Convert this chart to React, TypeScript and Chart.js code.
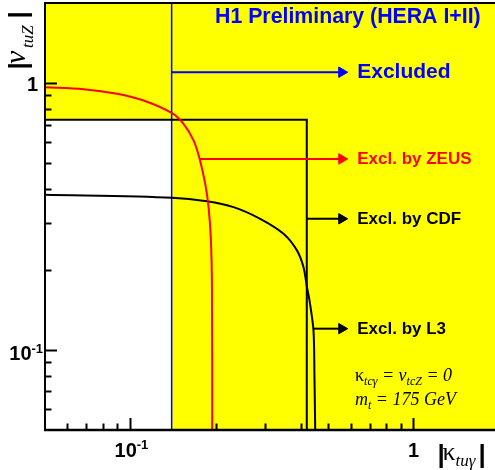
import React, { useEffect, useRef } from "react";
import { Chart, registerables } from "chart.js";

Chart.register(...registerables);

// ---- axis ranges ----
const X_MIN = 0.05;
const X_MAX = 1.94;
const Y_MIN = 0.05;
const Y_MAX = 2;

// ---- excluded-region boundaries ----
const whiteX = [0.05, 0.14];
const whiteY = [0.73, 0.73];
const h1X = [0.14, 0.14];
const h1Y = [0.05, 2];
const boxX = [0.05, 0.42, 0.42];
const boxY = [0.73, 0.73, 0.05];

// ---- ZEUS limit curve ----
const zeusX = [0.05, 0.0684, 0.0898, 0.1114, 0.1404, 0.1542, 0.1673, 0.1757, 0.1839, 0.189, 0.1927, 0.1943, 0.1947];
const zeusY = [0.966, 0.95, 0.913, 0.861, 0.772, 0.704, 0.61, 0.521, 0.42, 0.343, 0.257, 0.167, 0.05];

// ---- CDF / L3 limit curve ----
const cdfX = [0.05, 0.1404, 0.1865, 0.2315, 0.2876, 0.3476, 0.3877, 0.409, 0.4205, 0.4295, 0.4436, 0.447, 0.4498];
const cdfY = [0.3816, 0.372, 0.361, 0.343, 0.31, 0.2724, 0.236, 0.204, 0.172, 0.153, 0.118, 0.08, 0.05];

// ---- arrows and labels ----
const arrowLabels = ["Excluded", "Excl. by ZEUS", "Excl. by CDF", "Excl. by L3"];
const arrowColors = ["#0000ff", "#ff0000", "#000000", "#000000"];
const arrowFontSizes = [21, 17, 17, 17];
const arrowY = [1.1, 0.52, 0.31, 0.12];
const arrowStartX = [0.14, 0.176, 0.42, 0.443];
const arrowTipX = 0.558;
const labelX = 0.633;

// ---- ticks ----
const xMajor = [0.1, 1];
const xMinor = [0.06, 0.07, 0.08, 0.09, 0.2, 0.3, 0.4, 0.5, 0.6, 0.7, 0.8, 0.9];
const yMajor = [0.1, 1];
const yMinor = [0.06, 0.07, 0.08, 0.09, 0.2, 0.3, 0.4, 0.5, 0.6, 0.7, 0.8, 0.9];

const titleText = "H1 Preliminary (HERA I+II)";

const pts = (xs: number[], ys: number[]) => xs.map((x, i) => ({ x, y: ys[i] }));

const SANS = '"Liberation Sans", Arial, sans-serif';
const SERIF = '"Liberation Serif", "Times New Roman", serif';

type Part = { t: string; font: string; dy?: number; dx?: number };
function drawRich(ctx: CanvasRenderingContext2D, x: number, y: number, parts: Part[]) {
  let cx = x;
  for (const p of parts) {
    ctx.font = p.font;
    cx += p.dx || 0;
    ctx.fillText(p.t, cx, y + (p.dy || 0));
    cx += ctx.measureText(p.t).width;
  }
}

const decor = {
  id: "decor",
  beforeDraw(chart: any) {
    const { ctx, chartArea: a } = chart;
    ctx.save();
    ctx.fillStyle = "#ffff00";
    ctx.fillRect(a.left, a.top, a.right - a.left, a.bottom - a.top);
    ctx.restore();
  },
  afterDraw(chart: any) {
    const { ctx, chartArea: a } = chart;
    const xs = chart.scales.x;
    const ys = chart.scales.y;
    ctx.save();
    // frame
    ctx.strokeStyle = "#000";
    ctx.lineWidth = 2;
    ctx.beginPath();
    ctx.moveTo(a.right + 2, a.top);
    ctx.lineTo(a.left, a.top);
    ctx.lineTo(a.left, a.bottom);
    ctx.stroke();
    ctx.lineWidth = 2.5;
    ctx.beginPath();
    ctx.moveTo(a.left - 1, a.bottom);
    ctx.lineTo(a.right + 2, a.bottom);
    ctx.stroke();

    // ticks (inside)
    ctx.lineWidth = 2;
    ctx.beginPath();
    for (const v of xMajor) {
      const px = Math.round(xs.getPixelForValue(v)) + 0.5;
      ctx.moveTo(px, a.bottom);
      ctx.lineTo(px, a.bottom - 12);
    }
    for (const v of xMinor) {
      const px = Math.round(xs.getPixelForValue(v)) + 0.5;
      ctx.moveTo(px, a.bottom);
      ctx.lineTo(px, a.bottom - 6.5);
    }
    for (const v of yMajor) {
      const py = Math.round(ys.getPixelForValue(v)) + 0.5;
      ctx.moveTo(a.left, py);
      ctx.lineTo(a.left + 12, py);
    }
    for (const v of yMinor) {
      const py = Math.round(ys.getPixelForValue(v)) + 0.5;
      ctx.moveTo(a.left, py);
      ctx.lineTo(a.left + 6.5, py);
    }
    ctx.stroke();

    // tick labels
    ctx.fillStyle = "#000";
    ctx.textBaseline = "alphabetic";
    const big = `bold 20px ${SANS}`;
    const sup = `bold 13px ${SANS}`;
    // y labels
    {
      const p1 = ys.getPixelForValue(1);
      ctx.font = big;
      ctx.textAlign = "right";
      ctx.fillText("1", a.left - 7, p1 + 7.5);
      const p01 = ys.getPixelForValue(0.1);
      ctx.fillText("10", a.left - 13.5, p01 + 10.5);
      ctx.textAlign = "left";
      ctx.font = sup;
      ctx.fillText("-1", a.left - 13.5, p01 + 3.5);
    }
    // x labels
    {
      const q01 = xs.getPixelForValue(0.1);
      ctx.font = big;
      ctx.textAlign = "right";
      ctx.fillText("10", q01 + 6.5, a.bottom + 27);
      ctx.textAlign = "left";
      ctx.font = sup;
      ctx.fillText("-1", q01 + 6.5, a.bottom + 19);
      const q1 = xs.getPixelForValue(1);
      ctx.font = big;
      ctx.textAlign = "center";
      ctx.fillText("1", q1, a.bottom + 27);
    }

    // x axis title |κ_tuγ|
    ctx.textAlign = "left";
    ctx.font = `bold 26px ${SANS}`;
    ctx.fillText("|", 437.5, 463);
    ctx.font = `26px ${SERIF}`;
    ctx.fillText("κ", 442.5, 460);
    ctx.font = `italic 17px ${SERIF}`;
    ctx.fillText("tuγ", 455.5, 466);
    ctx.font = `bold 26px ${SANS}`;
    ctx.fillText("|", 478.5, 463);

    // y axis title |ν_tuZ| (rotated)
    ctx.save();
    ctx.translate(27, 70);
    ctx.rotate(-Math.PI / 2);
    ctx.font = `bold 26px ${SANS}`;
    ctx.fillText("|", 0.5, 0);
    ctx.font = `italic 30px ${SERIF}`;
    ctx.fillText("ν", 6, -2);
    ctx.font = `italic 17px ${SERIF}`;
    ctx.fillText("tuZ", 22, 6);
    ctx.font = `bold 26px ${SANS}`;
    ctx.fillText("|", 51.5, 0);
    ctx.restore();

    // clip to plot for in-plot texts
    ctx.save();
    ctx.beginPath();
    ctx.rect(a.left, a.top, a.right - a.left, a.bottom - a.top);
    ctx.clip();

    // title
    ctx.fillStyle = "#0000ff";
    ctx.font = `bold 21.3px ${SANS}`;
    ctx.textAlign = "left";
    ctx.textBaseline = "middle";
    ctx.fillText(titleText, 215, 17.5);

    // arrow labels
    arrowLabels.forEach((lab, i) => {
      ctx.fillStyle = arrowColors[i];
      ctx.font = `bold ${arrowFontSizes[i]}px ${SANS}`;
      ctx.textBaseline = "middle";
      ctx.fillText(lab, xs.getPixelForValue(labelX), ys.getPixelForValue(arrowY[i]) + 0.5);
    });

    // conditions
    ctx.fillStyle = "#000";
    ctx.textBaseline = "alphabetic";
    const it = `italic 18px ${SERIF}`;
    const itS = `italic 12px ${SERIF}`;
    drawRich(ctx, 355, 381, [
      { t: "κ", font: `18px ${SERIF}` },
      { t: "tcγ", font: itS, dy: 4 },
      { t: " = ", font: it },
      { t: "ν", font: it },
      { t: "tcZ", font: itS, dy: 4 },
      { t: " = 0", font: it },
    ]);
    drawRich(ctx, 355, 405, [
      { t: "m", font: it },
      { t: "t", font: itS, dy: 4 },
      { t: " = 175 GeV", font: it },
    ]);
    ctx.restore();
    ctx.restore();
  },
};

export default function App() {
  const ref = useRef<HTMLCanvasElement>(null);
  useEffect(() => {
    document.body.style.margin = "0";
    const canvas = ref.current!;
    const line = (data: any, color: string, width: number, order: number, extra: any = {}) => ({
      data,
      showLine: true,
      borderColor: color,
      borderWidth: width,
      pointRadius: 0,
      fill: false,
      order,
      ...extra,
    });
    const datasets: any[] = [
      line(pts(whiteX, whiteY), "rgba(0,0,0,0)", 0, 100, { fill: "start", backgroundColor: "#ffffff" }),
      line(pts(h1X, h1Y), "#0000ff", 1.5, 5),
      line(pts(boxX, boxY), "#000000", 2, 4),
      line(pts(zeusX, zeusY), "#ff0000", 2, 3, { tension: 0.3 }),
      line(pts(cdfX, cdfY), "#000000", 2, 3, { tension: 0.3 }),
    ];
    arrowLabels.forEach((_, i) => {
      datasets.push(
        line(
          [
            { x: arrowStartX[i], y: arrowY[i] },
            { x: arrowTipX, y: arrowY[i] },
          ],
          arrowColors[i],
          2,
          1,
          {
            pointRadius: [0, 6],
            pointStyle: "triangle",
            pointRotation: 90,
            pointBackgroundColor: arrowColors[i],
            pointBorderColor: arrowColors[i],
            pointBorderWidth: 1,
          }
        )
      );
    });
    const chart = new Chart(canvas, {
      type: "scatter",
      data: { datasets },
      options: {
        responsive: false,
        animation: false,
        events: [],
        layout: { autoPadding: false, padding: { left: 45, top: 3, right: 0, bottom: 40 } },
        scales: {
          x: { type: "logarithmic", min: X_MIN, max: X_MAX, display: false },
          y: { type: "logarithmic", min: Y_MIN, max: Y_MAX, display: false },
        },
        plugins: { legend: { display: false }, tooltip: { enabled: false } },
      } as any,
      plugins: [decor],
    });
    return () => chart.destroy();
  }, []);
  return <canvas ref={ref} width={495} height={470} style={{ display: "block" }} />;
}
